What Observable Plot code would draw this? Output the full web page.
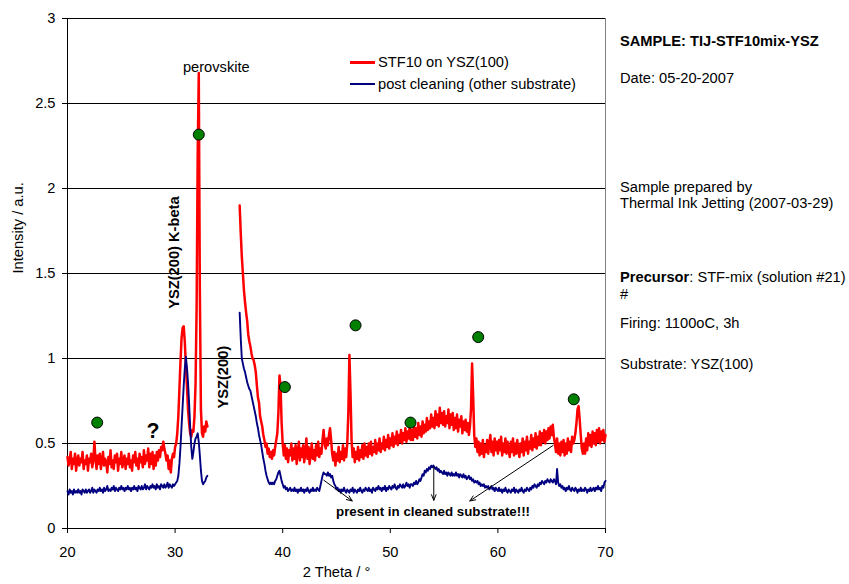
<!DOCTYPE html>
<html><head><meta charset="utf-8">
<script src="https://cdn.jsdelivr.net/npm/d3@7"></script>
<script src="https://cdn.jsdelivr.net/npm/@observablehq/plot@0.6"></script>
<style>
body{margin:0;background:#fff}
#wrap{position:relative;width:849px;height:584px;font-family:"Liberation Sans",Arial,sans-serif;color:#000}
.t{position:absolute;font-size:14.67px;line-height:17px;white-space:nowrap}
.sw{position:absolute;width:25px}
</style>
</head><body><div id="wrap"></div>
<script>
// ---- axis ticks
const xTicks = [20, 30, 40, 50, 60, 70];
const yTicks = [0, 0.5, 1, 1.5, 2, 2.5, 3];

// ---- series: rows of 10 readings per degree (step 0.1 deg)
const redStart1 = 20;
const redRows1 = [
[0.42,0.37,0.40,0.45,0.35,0.41,0.38,0.44,0.34,0.40],
[0.43,0.37,0.41,0.39,0.45,0.35,0.40,0.38,0.43,0.34],
[0.41,0.39,0.44,0.36,0.40,0.51,0.41,0.35,0.43,0.38],
[0.44,0.35,0.40,0.45,0.37,0.41,0.39,0.33,0.42,0.38],
[0.46,0.36,0.40,0.35,0.43,0.39,0.44,0.34,0.41,0.38],
[0.45,0.36,0.40,0.43,0.35,0.41,0.38,0.44,0.36,0.40],
[0.34,0.43,0.39,0.45,0.37,0.41,0.35,0.44,0.39,0.42],
[0.36,0.46,0.38,0.43,0.40,0.47,0.36,0.44,0.38,0.45],
[0.35,0.43,0.37,0.45,0.40,0.46,0.42,0.48,0.46,0.51],
[0.47,0.44,0.40,0.43,0.35,0.40,0.33,0.41,0.44,0.42],
[0.48,0.50,0.56,0.66,0.82,0.98,1.12,1.18,1.19,1.10],
[0.96,0.84,0.70,0.62,0.56,0.54,0.58,0.57,0.66,0.85],
[1.30,2.20,2.68,1.40,0.70,0.56,0.54,0.60,0.57,0.63],
[0.60]
];
const redStart2 = 36;
const redRows2 = [
[1.90,1.74,1.60,1.50,1.40,1.33,1.27,1.22,1.14,1.10],
[1.07,1.03,1.00,0.99,0.96,0.92,0.84,0.77,0.74,0.66],
[0.63,0.60,0.55,0.52,0.48,0.50,0.44,0.47,0.42,0.45],
[0.41,0.46,0.43,0.48,0.52,0.56,0.68,0.90,0.84,0.62],
[0.50,0.43,0.49,0.41,0.47,0.39,0.46,0.43,0.50,0.40],
[0.47,0.41,0.49,0.38,0.45,0.51,0.40,0.47,0.42,0.49],
[0.39,0.45,0.53,0.41,0.48,0.38,0.44,0.50,0.41,0.46],
[0.40,0.49,0.43,0.51,0.42,0.47,0.44,0.52,0.58,0.50],
[0.47,0.53,0.49,0.55,0.59,0.52,0.44,0.40,0.45,0.37],
[0.44,0.40,0.48,0.39,0.45,0.41,0.49,0.40,0.47,0.42],
[0.50,0.68,1.02,0.80,0.52,0.42,0.47,0.39,0.45,0.41],
[0.48,0.40,0.46,0.42,0.49,0.41,0.50,0.43,0.48,0.42],
[0.50,0.44,0.51,0.43,0.48,0.45,0.52,0.44,0.50,0.46],
[0.53,0.45,0.50,0.47,0.54,0.46,0.52,0.48,0.55,0.47],
[0.53,0.49,0.56,0.48,0.54,0.50,0.57,0.49,0.55,0.51],
[0.58,0.50,0.56,0.52,0.59,0.51,0.57,0.53,0.60,0.52],
[0.58,0.52,0.61,0.54,0.59,0.53,0.62,0.55,0.60,0.54],
[0.63,0.56,0.61,0.57,0.65,0.58,0.63,0.59,0.67,0.60],
[0.65,0.59,0.69,0.61,0.67,0.60,0.71,0.62,0.68,0.61],
[0.69,0.60,0.66,0.62,0.70,0.59,0.67,0.61,0.68,0.58],
[0.65,0.59,0.67,0.57,0.64,0.60,0.66,0.56,0.63,0.58],
[0.64,0.57,0.62,0.55,0.60,0.70,0.97,0.78,0.55,0.48],
[0.53,0.45,0.51,0.43,0.50,0.44,0.52,0.42,0.49,0.45],
[0.52,0.44,0.50,0.55,0.45,0.51,0.43,0.53,0.46,0.51],
[0.44,0.52,0.46,0.54,0.43,0.50,0.45,0.53,0.44,0.51],
[0.46,0.42,0.51,0.45,0.53,0.43,0.50,0.44,0.52,0.46],
[0.42,0.50,0.45,0.53,0.43,0.51,0.46,0.54,0.44,0.51],
[0.47,0.55,0.46,0.53,0.48,0.56,0.47,0.54,0.49,0.57],
[0.49,0.56,0.51,0.58,0.50,0.57,0.52,0.59,0.53,0.60],
[0.55,0.61,0.54,0.50,0.45,0.53,0.44,0.50,0.43,0.51],
[0.45,0.52,0.43,0.50,0.44,0.53,0.46,0.51,0.45,0.54],
[0.50,0.52,0.56,0.62,0.70,0.72,0.64,0.55,0.47,0.44],
[0.50,0.44,0.53,0.46,0.56,0.49,0.55,0.48,0.57,0.50],
[0.56,0.49,0.58,0.51,0.59,0.50,0.57,0.52,0.58,0.51],
[0.55]
];
const blueStart1 = 20;
const blueRows1 = [
[0.22,0.20,0.23,0.21,0.22,0.20,0.23,0.21,0.22,0.21],
[0.23,0.21,0.22,0.20,0.23,0.22,0.21,0.23,0.21,0.22],
[0.23,0.21,0.22,0.24,0.21,0.23,0.22,0.21,0.23,0.22],
[0.24,0.22,0.23,0.21,0.24,0.22,0.23,0.25,0.22,0.23],
[0.22,0.24,0.23,0.25,0.22,0.24,0.23,0.22,0.24,0.23],
[0.25,0.23,0.24,0.22,0.24,0.23,0.25,0.23,0.24,0.22],
[0.24,0.23,0.25,0.23,0.24,0.22,0.25,0.24,0.23,0.25],
[0.23,0.24,0.26,0.23,0.25,0.24,0.23,0.25,0.24,0.26],
[0.24,0.25,0.23,0.26,0.24,0.25,0.23,0.26,0.25,0.24],
[0.26,0.24,0.25,0.27,0.24,0.26,0.25,0.24,0.26,0.25],
[0.26,0.27,0.28,0.31,0.38,0.48,0.60,0.72,0.84,0.94],
[1.01,0.95,0.86,0.74,0.60,0.48,0.41,0.45,0.50,0.53],
[0.54,0.56,0.51,0.43,0.34,0.28,0.26,0.27,0.28,0.30],
[0.31]
];
const blueStart2 = 36;
const blueRows2 = [
[1.27,1.12,1.00,0.97,0.94,0.92,0.89,0.86,0.84,0.82],
[0.81,0.78,0.75,0.72,0.69,0.66,0.62,0.59,0.55,0.52],
[0.49,0.45,0.41,0.38,0.34,0.31,0.29,0.27,0.26,0.27],
[0.26,0.27,0.26,0.28,0.29,0.31,0.33,0.34,0.31,0.28],
[0.26,0.24,0.25,0.23,0.24,0.22,0.23,0.24,0.22,0.23],
[0.22,0.24,0.22,0.23,0.21,0.23,0.22,0.24,0.22,0.23],
[0.21,0.23,0.22,0.24,0.22,0.21,0.23,0.22,0.24,0.22],
[0.23,0.22,0.24,0.23,0.22,0.25,0.28,0.31,0.33,0.32],
[0.32,0.31,0.33,0.31,0.32,0.30,0.31,0.28,0.26,0.25],
[0.23,0.24,0.22,0.23,0.21,0.23,0.22,0.24,0.22,0.21],
[0.23,0.22,0.21,0.23,0.22,0.24,0.21,0.23,0.22,0.21],
[0.23,0.22,0.24,0.22,0.21,0.23,0.22,0.24,0.23,0.22],
[0.24,0.22,0.23,0.21,0.24,0.23,0.22,0.24,0.23,0.25],
[0.23,0.24,0.22,0.24,0.23,0.25,0.22,0.24,0.23,0.25],
[0.24,0.23,0.25,0.24,0.26,0.24,0.23,0.25,0.24,0.26],
[0.25,0.24,0.26,0.24,0.25,0.27,0.25,0.26,0.24,0.26],
[0.26,0.25,0.27,0.26,0.28,0.26,0.27,0.29,0.28,0.30],
[0.32,0.31,0.34,0.33,0.35,0.34,0.36,0.35,0.37,0.36],
[0.37,0.36,0.35,0.36,0.34,0.35,0.33,0.34,0.33,0.32],
[0.34,0.32,0.33,0.31,0.33,0.32,0.31,0.33,0.31,0.32],
[0.31,0.33,0.31,0.32,0.30,0.32,0.31,0.30,0.32,0.30],
[0.31,0.29,0.30,0.31,0.29,0.30,0.28,0.29,0.27,0.28],
[0.27,0.28,0.26,0.27,0.25,0.26,0.25,0.26,0.24,0.25],
[0.24,0.25,0.23,0.24,0.25,0.23,0.24,0.22,0.24,0.23],
[0.22,0.24,0.22,0.23,0.21,0.23,0.22,0.24,0.22,0.21],
[0.23,0.22,0.21,0.23,0.22,0.24,0.21,0.23,0.22,0.21],
[0.23,0.22,0.24,0.22,0.21,0.23,0.22,0.24,0.23,0.22],
[0.24,0.23,0.25,0.24,0.26,0.25,0.24,0.26,0.25,0.27],
[0.26,0.28,0.27,0.26,0.28,0.27,0.29,0.28,0.27,0.29],
[0.28,0.27,0.29,0.28,0.26,0.35,0.27,0.25,0.26,0.24],
[0.25,0.23,0.24,0.22,0.24,0.23,0.25,0.23,0.22,0.24],
[0.23,0.22,0.24,0.23,0.21,0.23,0.22,0.24,0.22,0.23],
[0.22,0.24,0.23,0.21,0.23,0.22,0.24,0.22,0.23,0.24],
[0.22,0.24,0.23,0.25,0.23,0.24,0.22,0.25,0.24,0.27],
[0.28]
];

// ---- peak markers (green dots)
const dotX = [22.76, 32.20, 40.20, 46.77, 51.88, 58.17, 67.05];
const dotY = [0.623, 2.317, 0.832, 1.195, 0.623, 1.126, 0.760];

// ---- annotations (data coordinates)
const annLabels = ["perovskite", "YSZ(200) K-beta", "YSZ(200)", "?", "present in cleaned substrate!!!"];
const annX = [33.83, 29.95, 34.50, 27.95, 53.97];
const annY = [2.712, 1.623, 0.890, 0.572, 0.100];

// ---- arrows (data coordinates)
const arrowX1 = [43.82, 54.04, 65.14];
const arrowY1 = [0.284, 0.362, 0.489];
const arrowX2 = [46.46, 54.04, 57.39];
const arrowY2 = [0.162, 0.166, 0.162];

// ---- legend & side text
const legendLabels = ["STF10 on YSZ(100)", "post cleaning (other substrate)"];
const seriesColors = ["#ff0000", "#000080"];
const infoLines = ["SAMPLE: TIJ-STF10mix-YSZ", "Date: 05-20-2007", "Sample prepared by", "Thermal Ink Jetting (2007-03-29)", "Precursor: STF-mix (solution #21)", "#", "Firing: 1100oC, 3h", "Substrate: YSZ(100)"];
const infoBold = ["SAMPLE: TIJ-STF10mix-YSZ", "", "", "", "Precursor", "", "", ""];
const xTitle = "2 Theta / °";
const yTitle = "Intensity / a.u.";

function expand(rows, start, seg) {
  const out = [];
  rows.forEach((row, r) => row.forEach((v, c) => out.push({x: Math.round((start + r + c / 10) * 10) / 10, y: v, seg})));
  return out;
}
const redData = [...expand(redRows1, redStart1, "a"), ...expand(redRows2, redStart2, "b")];
const blueData = [...expand(blueRows1, blueStart1, "a"), ...expand(blueRows2, blueStart2, "b")];
const dots = dotX.map((x, i) => ({x, y: dotY[i]}));
const ann = annLabels.map((label, i) => ({label, x: annX[i], y: annY[i]}));
const arrows = arrowX1.map((x1, i) => ({x1, y1: arrowY1[i], x2: arrowX2[i], y2: arrowY2[i]}));

const fs = 14.67;
const chart = Plot.plot({
  width: 849, height: 584,
  marginLeft: 67, marginRight: 244, marginTop: 18, marginBottom: 56,
  style: {fontFamily: '"Liberation Sans", Arial, sans-serif', fontSize: fs + "px", background: "white", color: "black", overflow: "visible"},
  x: {domain: [20, 70], ticks: xTicks, tickFormat: d => String(d), tickSize: 5, tickPadding: 13, label: null},
  y: {domain: [0, 3], ticks: yTicks, tickFormat: d => String(d), tickSize: 5, tickPadding: 7, label: null},
  marks: [
    Plot.ruleY(yTicks.slice(1), {stroke: "#000", strokeWidth: 1}),
    Plot.ruleX([70], {stroke: "#808080", strokeWidth: 1}),
    Plot.ruleX([20], {stroke: "#000", strokeWidth: 1}),
    Plot.ruleY([0], {stroke: "#000", strokeWidth: 1}),
    Plot.line(redData, {x: "x", y: "y", z: "seg", stroke: seriesColors[0], strokeWidth: 2.5}),
    Plot.line(blueData, {x: "x", y: "y", z: "seg", stroke: seriesColors[1], strokeWidth: 1.9}),
    Plot.dot(dots, {x: "x", y: "y", r: 5.5, fill: "#008000", stroke: "#000", strokeWidth: 1}),
    Plot.arrow(arrows, {x1: "x1", y1: "y1", x2: "x2", y2: "y2", stroke: "#000", strokeWidth: 1, headLength: 9, headAngle: 45}),
    Plot.text([ann[0]], {x: "x", y: "y", text: "label", fontSize: fs}),
    Plot.text([ann[1], ann[2]], {x: "x", y: "y", text: "label", fontSize: fs, fontWeight: "bold", rotate: -90}),
    Plot.text([ann[3]], {x: "x", y: "y", text: "label", fontSize: 21.3, fontWeight: "bold"}),
    Plot.text([ann[4]], {x: "x", y: "y", text: "label", fontSize: 13.33, fontWeight: "bold"}),
    Plot.text([xTitle], {frameAnchor: "bottom", dy: 48, fontSize: fs}),
    Plot.text([yTitle], {frameAnchor: "left", dx: -49, rotate: -90, fontSize: fs})
  ]
});
const wrap = document.getElementById("wrap");
wrap.appendChild(chart);

// legend
const legendTop = [62.5, 84];
legendLabels.forEach((lab, i) => {
  const sw = document.createElement("div");
  sw.className = "sw";
  const h = i === 0 ? 3 : 1.6;
  sw.style.left = "350px"; sw.style.top = (legendTop[i] - h / 2) + "px"; sw.style.height = h + "px";
  sw.style.background = seriesColors[i];
  wrap.appendChild(sw);
  const t = document.createElement("div");
  t.className = "t"; t.style.left = "378px"; t.style.top = (legendTop[i] - 8.4) + "px";
  t.textContent = lab;
  wrap.appendChild(t);
});

// side info text
const infoCenter = [41.7, 78.3, 187, 203.5, 277, 294.5, 323.5, 364];
infoLines.forEach((line, i) => {
  const t = document.createElement("div");
  t.className = "t"; t.style.left = "620px"; t.style.top = (infoCenter[i] - 8.4) + "px";
  const b = infoBold[i];
  if (b) {
    const el = document.createElement("b"); el.textContent = b; t.appendChild(el);
    t.appendChild(document.createTextNode(line.slice(b.length)));
  } else t.textContent = line;
  wrap.appendChild(t);
});
</script>
</body></html>
